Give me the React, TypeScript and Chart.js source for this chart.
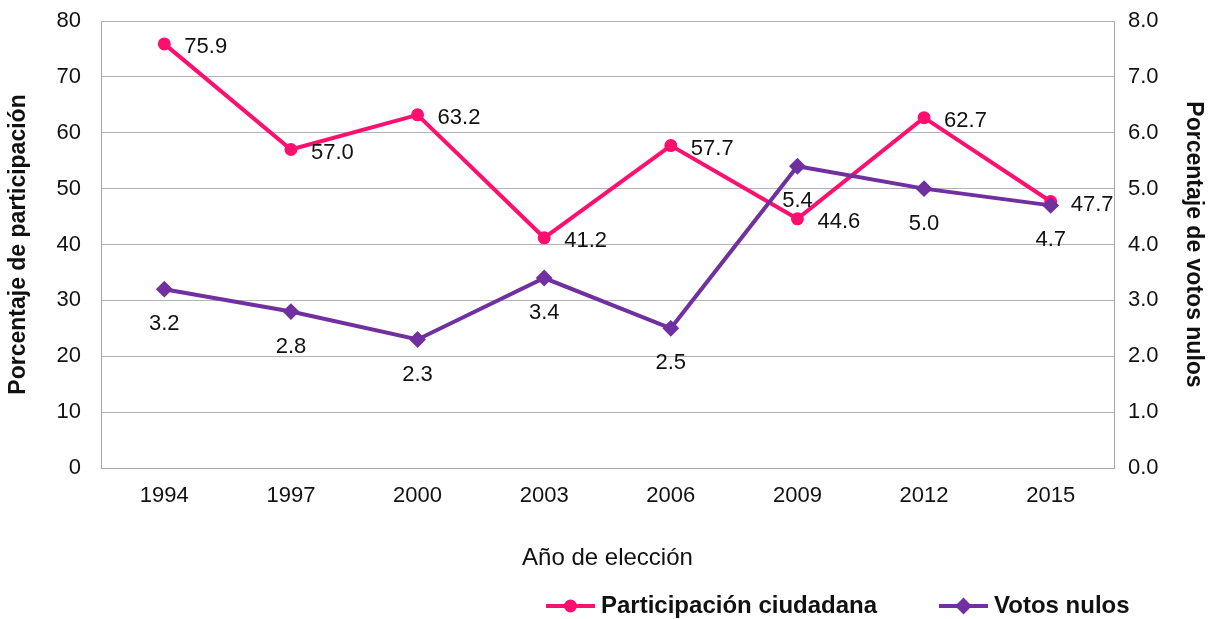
import React, { useEffect, useRef } from 'react';
import { Chart, registerables } from 'chart.js';

Chart.register(...registerables);

const years = ['1994', '1997', '2000', '2003', '2006', '2009', '2012', '2015'];
const participacion = [75.9, 57.0, 63.2, 41.2, 57.7, 44.6, 62.7, 47.7];
const votosNulos = [3.2, 2.8, 2.3, 3.4, 2.5, 5.4, 5.0, 4.7];

const seriesNames = ['Participación ciudadana', 'Votos nulos'];
const axisTitles = {
  left: 'Porcentaje de participación',
  right: 'Porcentaje de votos nulos',
  bottom: 'Año de elección',
};

const FONT = "'Liberation Sans', Arial, Helvetica, sans-serif";
const PINK = '#ff0f6e';
const PURPLE = '#7030a0';
const GRID = '#b4b4b4';
const BORDER = '#a6a6a6';
const TEXT = '#111111';

const dataLabelsPlugin = {
  id: 'dataLabels',
  afterDatasetsDraw(chart: any) {
    const ctx = chart.ctx;
    ctx.save();
    ctx.font = `22px ${FONT}`;
    ctx.fillStyle = TEXT;
    chart.data.datasets.forEach((ds: any, i: number) => {
      const meta = chart.getDatasetMeta(i);
      meta.data.forEach((pt: any, j: number) => {
        const txt = Number(ds.data[j]).toFixed(1);
        ctx.textBaseline = 'middle';
        if (ds.labelPlacement === 'right') {
          ctx.textAlign = 'left';
          ctx.fillText(txt, pt.x + 20, pt.y + 3);
        } else {
          ctx.textAlign = 'center';
          ctx.fillText(txt, pt.x, pt.y + 35);
        }
      });
    });
    ctx.restore();
  },
};

const legendPlugin = {
  id: 'lineLegend',
  afterDraw(chart: any, _args: any, opts: any) {
    const ctx = chart.ctx;
    const y = opts.y;
    ctx.save();
    chart.data.datasets.forEach((ds: any, i: number) => {
      const x0 = opts.starts[i];
      const lineLen = opts.lineLength;
      ctx.strokeStyle = ds.borderColor;
      ctx.lineWidth = ds.borderWidth;
      ctx.beginPath();
      ctx.moveTo(x0, y);
      ctx.lineTo(x0 + lineLen, y);
      ctx.stroke();
      ctx.fillStyle = ds.pointBackgroundColor;
      ctx.strokeStyle = ds.pointBorderColor;
      ctx.lineWidth = ds.pointBorderWidth;
      const cx = x0 + lineLen / 2;
      const r = ds.pointRadius;
      ctx.beginPath();
      if (ds.pointStyle === 'rectRot') {
        ctx.moveTo(cx - r, y);
        ctx.lineTo(cx, y - r);
        ctx.lineTo(cx + r, y);
        ctx.lineTo(cx, y + r);
        ctx.closePath();
      } else {
        ctx.arc(cx, y, r, 0, Math.PI * 2);
      }
      ctx.fill();
      ctx.stroke();
      ctx.font = `bold 24px ${FONT}`;
      ctx.fillStyle = TEXT;
      ctx.textAlign = 'left';
      ctx.textBaseline = 'middle';
      ctx.fillText(ds.label, x0 + lineLen + 6, y);
    });
    ctx.restore();
  },
};

function fixVertical(width: number) {
  return (scale: any) => {
    scale.width = width;
    scale.paddingTop = 0;
    scale.paddingBottom = 0;
  };
}

export default function App() {
  const canvasRef = useRef<HTMLCanvasElement | null>(null);

  useEffect(() => {
    if (!canvasRef.current) return;
    const chart = new Chart(canvasRef.current, {
      type: 'line',
      data: {
        labels: years,
        datasets: [
          {
            label: seriesNames[0],
            data: participacion,
            yAxisID: 'y',
            borderColor: PINK,
            backgroundColor: PINK,
            borderWidth: 4,
            pointStyle: 'circle',
            pointRadius: 5.5,
            pointBorderWidth: 2,
            pointBackgroundColor: PINK,
            pointBorderColor: PINK,
            tension: 0,
            order: 2,
            labelPlacement: 'right',
          } as any,
          {
            label: seriesNames[1],
            data: votosNulos,
            yAxisID: 'y1',
            borderColor: PURPLE,
            backgroundColor: PURPLE,
            borderWidth: 4,
            pointStyle: 'rectRot',
            pointRadius: 7,
            pointBorderWidth: 2,
            pointBackgroundColor: PURPLE,
            pointBorderColor: PURPLE,
            tension: 0,
            order: 1,
            labelPlacement: 'below',
          } as any,
        ],
      },
      options: {
        responsive: false,
        animation: false,
        layout: { padding: { top: 21, bottom: 39, left: 0, right: 0 } },
        plugins: {
          legend: { display: false },
          tooltip: { enabled: false },
          lineLegend: { starts: [546, 939], lineLength: 49, y: 606 },
        } as any,
        scales: {
          x: {
            offset: true,
            grid: { display: false, drawTicks: false },
            border: { display: true, color: BORDER, width: 1 },
            ticks: { font: { family: FONT, size: 22 }, color: TEXT, padding: 15, maxRotation: 0 },
            title: {
              display: true,
              text: axisTitles.bottom,
              font: { family: FONT, size: 24 },
              color: TEXT,
              padding: { top: 0, bottom: 7 },
            },
            afterFit(scale: any) {
              scale.height = 112;
              scale.paddingLeft = 0;
              scale.paddingRight = 0;
            },
          },
          y: {
            position: 'left',
            min: 0,
            max: 80,
            ticks: {
              stepSize: 10,
              font: { family: FONT, size: 22 },
              color: TEXT,
              padding: 20,
            },
            grid: { color: GRID, lineWidth: 1, drawTicks: false },
            border: { display: true, color: BORDER, width: 1 },
            title: {
              display: true,
              text: axisTitles.left,
              font: { family: FONT, size: 23, weight: 'bold' },
              color: TEXT,
              padding: { top: 5, bottom: 0 },
            },
            afterFit: fixVertical(101),
          },
          y1: {
            position: 'right',
            min: 0,
            max: 8,
            ticks: {
              stepSize: 1,
              font: { family: FONT, size: 22 },
              color: TEXT,
              padding: 14,
              callback: (v: any) => Number(v).toFixed(1),
            },
            grid: { drawOnChartArea: false, drawTicks: false },
            border: { display: true, color: BORDER, width: 1 },
            title: {
              display: true,
              text: axisTitles.right,
              font: { family: FONT, size: 23, weight: 'bold' },
              color: TEXT,
              padding: { top: 4, bottom: 0 },
            },
            afterFit: fixVertical(97),
          },
        },
      } as any,
      plugins: [dataLabelsPlugin, legendPlugin],
    });
    return () => chart.destroy();
  }, []);

  return (
    <div style={{ position: 'fixed', left: 0, top: 0, width: 1211, height: 619, background: '#fff' }}>
      <canvas ref={canvasRef} width={1211} height={619} style={{ display: 'block' }} />
    </div>
  );
}
